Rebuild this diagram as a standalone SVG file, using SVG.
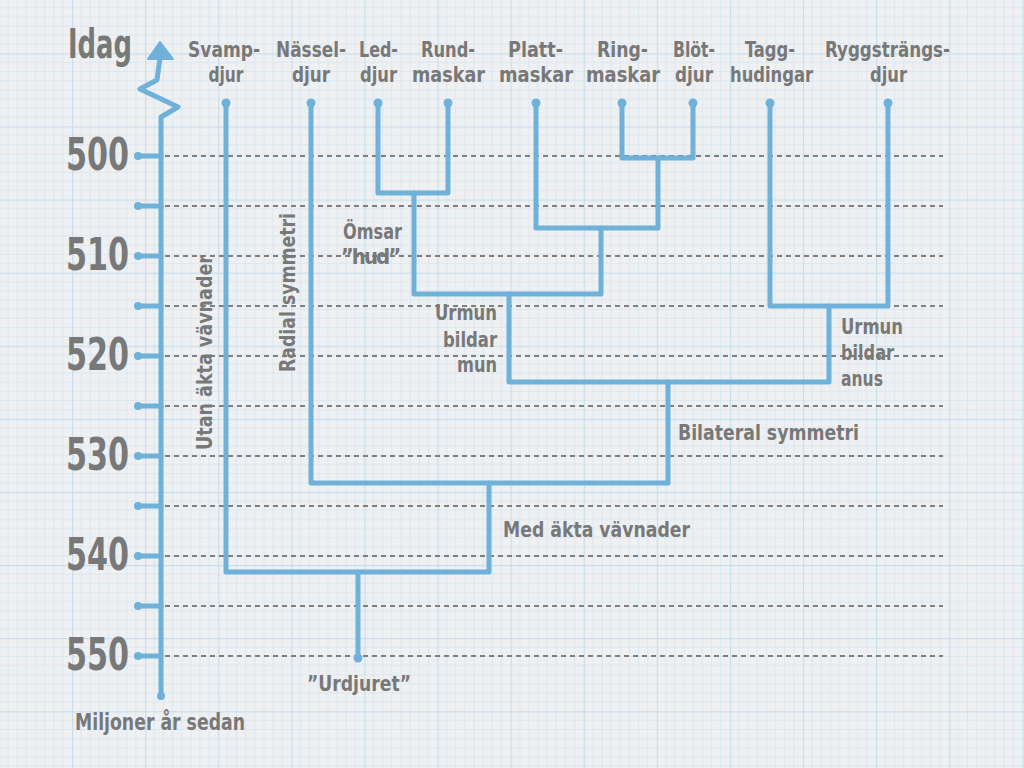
<svg xmlns="http://www.w3.org/2000/svg" width="1024" height="768" viewBox="0 0 1024 768">
<defs>
<pattern id="grid" x="72" y="53.3" width="73.1" height="73.1" patternUnits="userSpaceOnUse">
<path d="M9.14 0V73.1M18.28 0V73.1M27.41 0V73.1M36.55 0V73.1M45.69 0V73.1M54.83 0V73.1M63.96 0V73.1M0 9.14H73.1M0 18.28H73.1M0 27.41H73.1M0 36.55H73.1M0 45.69H73.1M0 54.83H73.1M0 63.96H73.1" stroke="#dae8f1" stroke-width="1" fill="none"/>
<path d="M0.6 0V73.1M0 0.6H73.1" stroke="#c6dfed" stroke-width="1.2" fill="none"/>
</pattern>
<style>
.t{font-family:"DejaVu Sans Condensed","DejaVu Sans",sans-serif;font-stretch:condensed;font-weight:bold;fill:#787878}
.sp{font-size:21px;text-anchor:middle}
.an{font-size:22px}
.num{font-size:44px;text-anchor:end}
.b{fill:none;stroke:#6fb1d9;stroke-width:5;stroke-linecap:round;stroke-linejoin:round}
.dash{fill:none;stroke:#7f7f7f;stroke-width:2;stroke-dasharray:5 4}
.dot{fill:#6fb1d9}
</style>
</defs>
<rect width="1024" height="768" fill="#eff0f1"/>
<rect width="1024" height="768" fill="url(#grid)"/>

<g id="guides">
<path class="dash" d="M165 156H943M165 206H943M165 256H943M165 306H943M165 356H943M165 406H943M165 456H943M165 506H943M165 556H943M165 606H943M165 656H943"/>
</g>

<g id="axis">
<polygon points="160,42 148,59 173,59" fill="#6fb1d9" stroke="#6fb1d9" stroke-width="2" stroke-linejoin="round"/>
<path class="b" d="M160 58L157 80L140 89L178 107L161 117V696"/>
<path class="b" d="M137 156H161M137 206H161M137 256H161M137 306H161M137 356H161M137 406H161M137 456H161M137 506H161M137 556H161M137 606H161M137 656H161"/>
<g class="dot">
<circle cx="138" cy="156" r="4"/><circle cx="138" cy="206" r="4"/><circle cx="138" cy="256" r="4"/><circle cx="138" cy="306" r="4"/><circle cx="138" cy="356" r="4"/><circle cx="138" cy="406" r="4"/><circle cx="138" cy="456" r="4"/><circle cx="138" cy="506" r="4"/><circle cx="138" cy="556" r="4"/><circle cx="138" cy="606" r="4"/><circle cx="138" cy="656" r="4"/><circle cx="161" cy="696" r="4"/>
</g>
<text class="t" x="68" y="58" font-size="41" textLength="64" lengthAdjust="spacingAndGlyphs">Idag</text>
<text class="t num" x="129" y="170" textLength="63" lengthAdjust="spacingAndGlyphs">500</text>
<text class="t num" x="129" y="270" textLength="63" lengthAdjust="spacingAndGlyphs">510</text>
<text class="t num" x="129" y="370" textLength="63" lengthAdjust="spacingAndGlyphs">520</text>
<text class="t num" x="129" y="470" textLength="63" lengthAdjust="spacingAndGlyphs">530</text>
<text class="t num" x="129" y="570" textLength="63" lengthAdjust="spacingAndGlyphs">540</text>
<text class="t num" x="129" y="670" textLength="63" lengthAdjust="spacingAndGlyphs">550</text>
<text class="t" x="75" y="730" font-size="23" textLength="170" lengthAdjust="spacingAndGlyphs">Miljoner år sedan</text>
</g>

<g id="connectors">
<path class="b" d="M226 103V572H489V483"/>
<path class="b" d="M358 572V658"/>
<path class="b" d="M311 103V483H668V382"/>
<path class="b" d="M829 306V382H509V294"/>
<path class="b" d="M414 193V294H601V228"/>
<path class="b" d="M378 103V193H448V103"/>
<path class="b" d="M536 103V228H658V158"/>
<path class="b" d="M622 103V158H693V103"/>
<path class="b" d="M770 103V306H888V103"/>
<g class="dot">
<circle cx="226" cy="103" r="4.5"/><circle cx="311" cy="103" r="4.5"/><circle cx="378" cy="103" r="4.5"/><circle cx="448" cy="103" r="4.5"/><circle cx="536" cy="103" r="4.5"/><circle cx="622" cy="103" r="4.5"/><circle cx="693" cy="103" r="4.5"/><circle cx="770" cy="103" r="4.5"/><circle cx="888" cy="103" r="4.5"/><circle cx="358" cy="658" r="4.5"/>
</g>
</g>

<g id="svampdjur"><text class="t sp" x="224" y="57" textLength="72" lengthAdjust="spacingAndGlyphs">Svamp-</text><text class="t sp" x="226" y="82" textLength="35" lengthAdjust="spacingAndGlyphs">djur</text></g>
<g id="nasseldjur"><text class="t sp" x="311" y="57" textLength="70" lengthAdjust="spacingAndGlyphs">Nässel-</text><text class="t sp" x="311" y="82" textLength="38" lengthAdjust="spacingAndGlyphs">djur</text></g>
<g id="leddjur"><text class="t sp" x="378.5" y="57" textLength="39" lengthAdjust="spacingAndGlyphs">Led-</text><text class="t sp" x="378.5" y="82" textLength="37" lengthAdjust="spacingAndGlyphs">djur</text></g>
<g id="rundmaskar"><text class="t sp" x="448" y="57" textLength="54" lengthAdjust="spacingAndGlyphs">Rund-</text><text class="t sp" x="448.5" y="82" textLength="73" lengthAdjust="spacingAndGlyphs">maskar</text></g>
<g id="plattmaskar"><text class="t sp" x="535.5" y="57" textLength="55" lengthAdjust="spacingAndGlyphs">Platt-</text><text class="t sp" x="536" y="82" textLength="74" lengthAdjust="spacingAndGlyphs">maskar</text></g>
<g id="ringmaskar"><text class="t sp" x="622.5" y="57" textLength="51" lengthAdjust="spacingAndGlyphs">Ring-</text><text class="t sp" x="623" y="82" textLength="74" lengthAdjust="spacingAndGlyphs">maskar</text></g>
<g id="blotdjur"><text class="t sp" x="694" y="57" textLength="42" lengthAdjust="spacingAndGlyphs">Blöt-</text><text class="t sp" x="694" y="82" textLength="38" lengthAdjust="spacingAndGlyphs">djur</text></g>
<g id="tagghudingar"><text class="t sp" x="770" y="57" textLength="50" lengthAdjust="spacingAndGlyphs">Tagg-</text><text class="t sp" x="771.5" y="82" textLength="83" lengthAdjust="spacingAndGlyphs">hudingar</text></g>
<g id="ryggstrangsdjur"><text class="t sp" x="887.5" y="57" textLength="125" lengthAdjust="spacingAndGlyphs">Ryggsträngs-</text><text class="t sp" x="888.5" y="82" textLength="37" lengthAdjust="spacingAndGlyphs">djur</text></g>

<g id="omsar-hud"><text class="t an" x="372.5" y="239" text-anchor="middle" textLength="59" lengthAdjust="spacingAndGlyphs">Ömsar</text><text class="t an" x="370" y="264" text-anchor="middle" letter-spacing="-2">”hud”</text></g>
<g id="urmun-mun"><text class="t an" x="497" y="320" text-anchor="end" textLength="62" lengthAdjust="spacingAndGlyphs">Urmun</text><text class="t an" x="497" y="347" text-anchor="end" textLength="54" lengthAdjust="spacingAndGlyphs">bildar</text><text class="t an" x="497" y="372" text-anchor="end" textLength="40" lengthAdjust="spacingAndGlyphs">mun</text></g>
<g id="urmun-anus"><text class="t an" x="841" y="334" textLength="62" lengthAdjust="spacingAndGlyphs">Urmun</text><text class="t an" x="841" y="360" textLength="53" lengthAdjust="spacingAndGlyphs">bildar</text><text class="t an" x="841" y="386" textLength="42" lengthAdjust="spacingAndGlyphs">anus</text></g>
<g id="bilateral"><text class="t an" x="678" y="440" textLength="181" lengthAdjust="spacingAndGlyphs">Bilateral symmetri</text></g>
<g id="med-akta"><text class="t an" x="503" y="537" textLength="187" lengthAdjust="spacingAndGlyphs">Med äkta vävnader</text></g>
<g id="urdjuret"><text class="t an" x="359" y="691" text-anchor="middle" textLength="104" lengthAdjust="spacingAndGlyphs">”Urdjuret”</text></g>
<g id="utan-akta"><text class="t an" transform="translate(212 352.5) rotate(-90)" text-anchor="middle" textLength="195" lengthAdjust="spacingAndGlyphs">Utan äkta vävnader</text></g>
<g id="radial"><text class="t an" transform="translate(295 292.5) rotate(-90)" text-anchor="middle" textLength="159" lengthAdjust="spacingAndGlyphs">Radial symmetri</text></g>
</svg>
